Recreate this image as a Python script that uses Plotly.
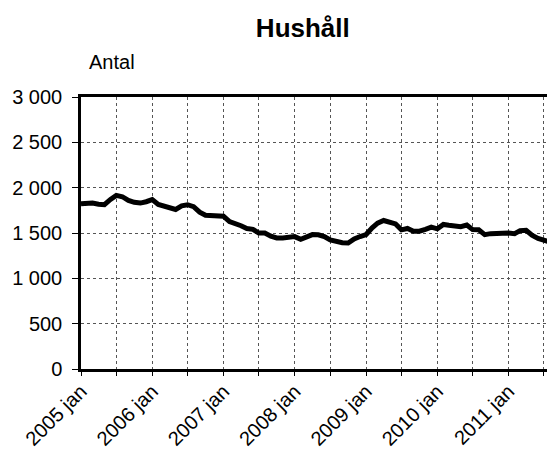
import pandas as pd
import plotly.graph_objects as go

# Monthly values, 2005 jan .. 2011 sep
months = pd.date_range("2005-01-01", periods=81, freq="MS")
hushall = [
    1823, 1828, 1830, 1818, 1812, 1870, 1915, 1900, 1860, 1838, 1830, 1845,   # 2005
    1868, 1815, 1800, 1785, 1760, 1800, 1812, 1790, 1730, 1695, 1688, 1688,   # 2006
    1686, 1625, 1610, 1580, 1550, 1540, 1500, 1500, 1465, 1445, 1445, 1450,   # 2007
    1460, 1430, 1460, 1482, 1480, 1461, 1424, 1406, 1392, 1390, 1435, 1461,   # 2008
    1483, 1557, 1609, 1638, 1625, 1600, 1535, 1550, 1520, 1520, 1540, 1565,   # 2009
    1546, 1594, 1585, 1574, 1570, 1588, 1537, 1535, 1482, 1493, 1500, 1504,   # 2010
    1500, 1493, 1526, 1530, 1475, 1440, 1425, 1400, 1300,                     # 2011
]

x_tickvals = pd.date_range("2005-01-01", "2011-07-01", freq="6MS")
x_ticktext = [f"{d.year} jan" if d.month == 1 else "" for d in x_tickvals]
y_tickvals = [0, 500, 1000, 1500, 2000, 2500, 3000]

title_text = "Hushåll"
y_label = "Antal"

FONT = "Liberation Sans, Arial, sans-serif"

# page body has an 8px margin, so the figure is sized/offset to compensate
fig = go.Figure()
fig.add_trace(go.Scatter(
    x=months, y=hushall, mode="lines",
    line=dict(color="black", width=5),
    hoverinfo="skip", showlegend=False,
))

fig.update_layout(
    width=547, height=442,
    margin=dict(l=73, r=0, t=89, b=81, autoexpand=False),
    paper_bgcolor="white", plot_bgcolor="white",
    separators=", ",
    font=dict(family=FONT, size=20, color="black"),
    title=dict(text=f"<b>{title_text}</b>", x=0.539, xref="container",
               xanchor="center", y=0.955, yref="container", yanchor="middle",
               font=dict(family=FONT, size=26, color="black")),
    annotations=[dict(text=y_label, xref="paper", yref="paper",
                      x=0.012, y=1.129, xanchor="left", yanchor="middle",
                      showarrow=False, font=dict(family=FONT, size=20, color="black"))],
)

fig.update_xaxes(
    type="date", automargin=False,
    range=["2005-01-01", "2011-08-27"],
    tickmode="array", tickvals=x_tickvals, ticktext=x_ticktext,
    tickangle=-45,
    ticks="outside", ticklen=4, tickcolor="black", tickwidth=1,
    ticklabelstandoff=-4,
    showline=True, linecolor="black", linewidth=2.5, mirror=True,
    showgrid=True, gridcolor="#555555", griddash="dot", gridwidth=1,
    zeroline=False,
    tickfont=dict(family=FONT, size=20, color="black"),
)
fig.update_yaxes(
    automargin=False,
    range=[0, 3000],
    tickmode="array", tickvals=y_tickvals, tickformat=",d",
    ticks="outside", ticklen=6, tickcolor="black", tickwidth=1,
    ticklabelstandoff=6,
    showline=True, linecolor="black", linewidth=2.5,
    showgrid=True, gridcolor="#555555", griddash="dot", gridwidth=1,
    zeroline=False,
    tickfont=dict(family=FONT, size=20, color="black"),
)

fig.write_html("out.html")
